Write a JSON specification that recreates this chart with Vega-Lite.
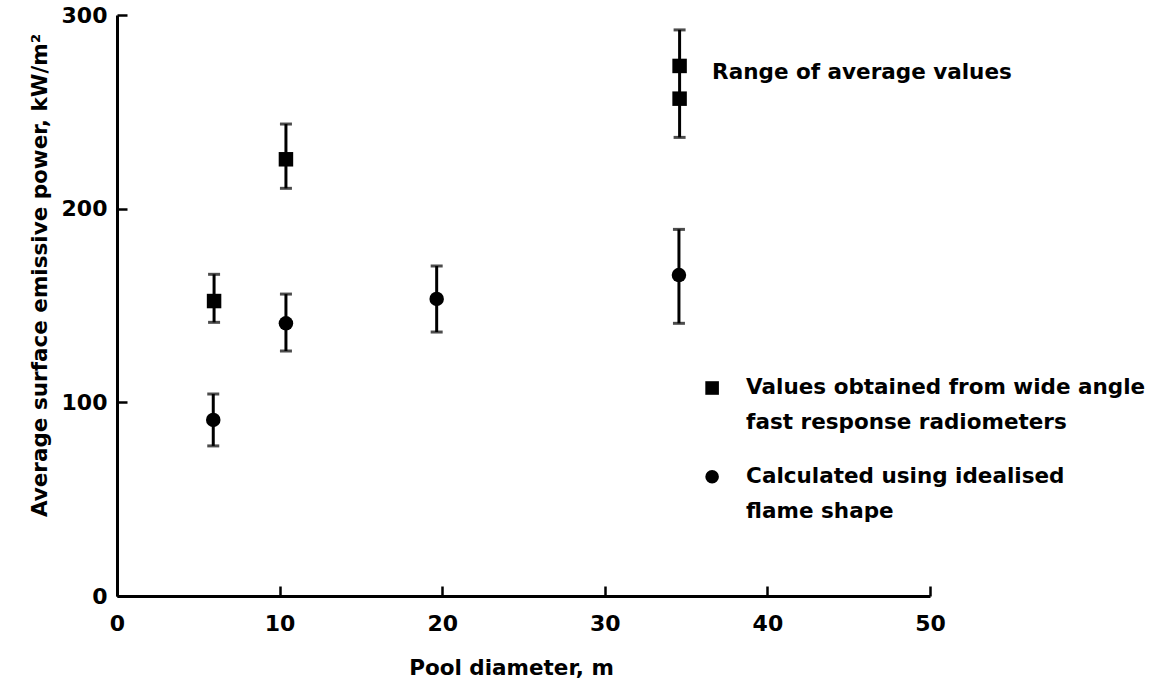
{
  "$schema": "https://vega.github.io/schema/vega-lite/v6.json",
  "width": 813,
  "height": 581,
  "autosize": {"type": "none"},
  "padding": {"left": 117, "top": 15, "right": 221, "bottom": 84},
  "background": "white",
  "config": {
    "view": {"stroke": null},
    "font": "DejaVu Sans",
    "axis": {
      "domainColor": "black",
      "domainWidth": 3,
      "tickColor": "black",
      "tickWidth": 2.5,
      "tickSize": -10,
      "grid": false,
      "labelFlush": false,
      "labelColor": "black",
      "labelFont": "DejaVu Sans",
      "labelFontWeight": "bold",
      "labelFontSize": 22,
      "titleColor": "black",
      "titleFont": "DejaVu Sans",
      "titleFontWeight": "bold",
      "titleFontSize": 21.5
    }
  },
  "datasets": {
    "points": [
      {"series": "Radiometers", "d": 5.97, "p": 152.3},
      {"series": "Radiometers", "d": 10.39, "p": 225.5},
      {"series": "Radiometers", "d": 34.6, "p": 273.7},
      {"series": "Radiometers", "d": 34.6, "p": 256.8},
      {"series": "Calculated", "d": 5.92, "p": 90.9},
      {"series": "Calculated", "d": 10.39, "p": 140.8},
      {"series": "Calculated", "d": 19.66, "p": 153.4},
      {"series": "Calculated", "d": 34.56, "p": 165.7}
    ],
    "bars": [
      {"series": "Radiometers", "d": 5.97, "lo": 141.3, "hi": 166.1},
      {"series": "Radiometers", "d": 10.39, "lo": 210.5, "hi": 243.7},
      {"series": "Radiometers", "d": 34.6, "lo": 236.8, "hi": 292.3},
      {"series": "Calculated", "d": 5.92, "lo": 77.5, "hi": 104.3},
      {"series": "Calculated", "d": 10.39, "lo": 126.5, "hi": 155.9},
      {"series": "Calculated", "d": 19.66, "lo": 136.3, "hi": 170.4},
      {"series": "Calculated", "d": 34.56, "lo": 140.8, "hi": 189.3}
    ],
    "legend": [
      {"series": "Radiometers", "d": 36.6, "p": 107.4, "label": "Values obtained from wide angle\nfast response radiometers"},
      {"series": "Calculated", "d": 36.6, "p": 61.6, "label": "Calculated using idealised\nflame shape"}
    ],
    "notes": [
      {"d": 36.6, "p": 270.1, "label": "Range of average values"}
    ]
  },
  "layer": [
    {
      "data": {"name": "bars"},
      "mark": {"type": "rule", "color": "black", "strokeWidth": 3},
      "encoding": {
        "x": {"field": "d", "type": "quantitative", "scale": {"domain": [0, 50], "nice": false},
          "axis": {"values": [0, 10, 20, 30, 40, 50], "title": "Pool diameter, m", "labelPadding": 27,
            "titleX": 394, "titleY": 72, "titleBaseline": "middle", "titleAnchor": null, "titleAlign": "center"}},
        "y": {"field": "lo", "type": "quantitative", "scale": {"domain": [0, 300], "nice": false},
          "axis": {"values": [0, 100, 200, 300], "title": "Average surface emissive power, kW/m²", "labelPadding": 20,
            "titleX": -77, "titleY": 260, "titleBaseline": "middle", "titleAlign": "center", "titleAngle": -90}},
        "y2": {"field": "hi"}
      }
    },
    {
      "data": {"name": "bars"},
      "mark": {"type": "tick", "color": "black", "orient": "horizontal", "size": 12, "thickness": 3},
      "encoding": {
        "x": {"field": "d", "type": "quantitative"},
        "y": {"field": "lo", "type": "quantitative"}
      }
    },
    {
      "data": {"name": "bars"},
      "mark": {"type": "tick", "color": "black", "orient": "horizontal", "size": 12, "thickness": 3},
      "encoding": {
        "x": {"field": "d", "type": "quantitative"},
        "y": {"field": "hi", "type": "quantitative"}
      }
    },
    {
      "data": {"name": "points"},
      "mark": {"type": "point", "filled": true, "color": "black", "opacity": 1, "size": 210},
      "encoding": {
        "x": {"field": "d", "type": "quantitative"},
        "y": {"field": "p", "type": "quantitative"},
        "shape": {"field": "series", "type": "nominal", "legend": null,
          "scale": {"domain": ["Radiometers", "Calculated"], "range": ["square", "circle"]}}
      }
    },
    {
      "data": {"name": "legend"},
      "mark": {"type": "point", "filled": true, "color": "black", "opacity": 1, "size": 185},
      "encoding": {
        "x": {"field": "d", "type": "quantitative"},
        "y": {"field": "p", "type": "quantitative"},
        "shape": {"field": "series", "type": "nominal", "legend": null}
      }
    },
    {
      "data": {"name": "legend"},
      "mark": {"type": "text", "align": "left", "baseline": "middle", "dx": 34, "lineBreak": "\n", "lineHeight": 35,
        "font": "DejaVu Sans", "fontWeight": "bold", "fontSize": 21.5, "color": "black"},
      "encoding": {
        "x": {"field": "d", "type": "quantitative"},
        "y": {"field": "p", "type": "quantitative"},
        "text": {"field": "label"}
      }
    },
    {
      "data": {"name": "notes"},
      "mark": {"type": "text", "align": "left", "baseline": "middle",
        "font": "DejaVu Sans", "fontWeight": "bold", "fontSize": 21.5, "color": "black"},
      "encoding": {
        "x": {"field": "d", "type": "quantitative"},
        "y": {"field": "p", "type": "quantitative"},
        "text": {"field": "label"}
      }
    }
  ]
}
